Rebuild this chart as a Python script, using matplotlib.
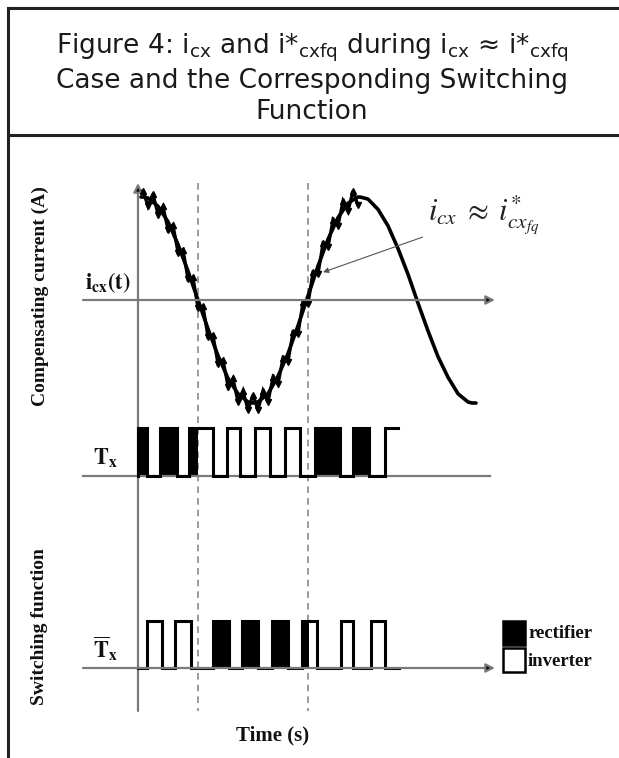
import matplotlib
matplotlib.use("Agg")
import matplotlib.pyplot as plt
from matplotlib.patches import Rectangle
from matplotlib.lines import Line2D

# ---- data (time in arbitrary units, current normalised to the peak) ----
ref_t = [0.3, 0.5, 1.0, 2.0, 3.0, 4.0, 5.0, 6.0, 7.0, 8.0, 9.0, 10.0, 11.0, 11.5,
         12.0, 13.0, 14.0, 15.0, 16.0, 17.0, 18.0, 19.0, 20.0, 21.0, 22.0, 22.2,
         23.0, 24.0, 25.0, 26.0, 27.0, 28.0, 29.0, 30.0, 31.0, 32.0, 33.0, 33.4, 33.8]
ref_i = [1.0, 1.0, 0.99, 0.91, 0.76, 0.54, 0.28, 0.0, -0.28, -0.54, -0.76, -0.91, -0.99, -1.0,
         -0.99, -0.91, -0.74, -0.52, -0.25, 0.04, 0.33, 0.59, 0.80, 0.94, 1.0, 1.0,
         0.98, 0.88, 0.72, 0.50, 0.25, -0.03, -0.30, -0.55, -0.75, -0.91, -0.99, -1.0, -1.0]

# actual (hysteresis) current ripple around the reference
rip_t = [0.5, 1.0, 1.5, 2.0, 2.5, 3.0, 3.5, 4.0, 4.5, 5.0, 5.5, 6.0, 6.5, 7.0, 7.5, 8.0,
         8.5, 9.0, 9.5, 10.0, 10.5, 11.0, 11.5, 12.0, 12.5, 13.0, 13.5, 14.0, 14.5, 15.0,
         15.5, 16.0, 16.5, 17.0, 17.5, 18.0, 18.5, 19.0, 19.5, 20.0, 20.5, 21.0, 21.5, 22.0]
rip_i = [1.06, 0.91, 1.03, 0.83, 0.91, 0.68, 0.73, 0.46, 0.49, 0.20, 0.22, -0.08, -0.06,
         -0.36, -0.34, -0.62, -0.58, -0.84, -0.76, -0.99, -0.88, -1.07, -0.92, -1.07, -0.88,
         -0.99, -0.75, -0.82, -0.56, -0.60, -0.31, -0.33, -0.02, -0.04, 0.27, 0.25, 0.55,
         0.51, 0.78, 0.72, 0.96, 0.86, 1.06, 0.92]

# switching function T_x : rising / falling edges and black-filled (rectifier) extent
tx_on = [0.0, 2.2, 5.1, 8.9, 11.7, 14.7, 17.7, 21.5, 24.7]
tx_off = [0.9, 3.9, 7.5, 10.2, 13.2, 16.2, 20.2, 23.1]
tx_fill = [0.9, 3.9, 6.0, None, None, None, 20.2, 23.1, None]
tx_end = 26.0

# complementary switching function
txb_on = [0.9, 3.7, 7.5, 10.4, 13.4, 16.4, 20.3, 23.3]
txb_off = [2.4, 5.3, 9.1, 12.0, 15.0, 17.9, 21.5, 24.7]
txb_fill = [None, None, 9.1, 12.0, 15.0, 17.1, None, None]
txb_end = 26.1

zero_cross = [6.0, 17.0]

W, H = 619, 758
fig = plt.figure(figsize=(W / 100, H / 100), dpi=100)
XL = (-13.8, 48.1)


def px_axes(y0, y1):
    a = fig.add_axes([0, 1 - y1 / H, 1, (y1 - y0) / H])
    a.set_xlim(*XL)
    a.axis("off")
    a.patch.set_alpha(0)
    return a


# frame and title box
for xs, ys in [([8, 8], [8, 758]), ([8, 619], [8, 8]), ([8, 619], [135, 135])]:
    fig.add_artist(Line2D([x / W for x in xs], [1 - y / H for y in ys],
                          color="#222222", lw=2.2, transform=fig.transFigure))

title_kw = dict(ha="center", va="center", fontsize=19, color="#1a1a1a",
                family="DejaVu Sans", math_fontfamily="dejavusans")
fig.text(312 / W, 1 - 48 / H,
         r"Figure 4: i$_{\mathrm{cx}}$ and i*$_{\mathrm{cxfq}}$ during i$_{\mathrm{cx}}$ ≈ i*$_{\mathrm{cxfq}}$",
         **title_kw)
fig.text(312 / W, 1 - 81 / H, "Case and the Corresponding Switching", **title_kw)
fig.text(312 / W, 1 - 112 / H, "Function", **title_kw)

gray = "#7a7a7a"
serif = dict(family="Liberation Serif", weight="bold", color="#111111")

# background: vertical axis and dashed zero-crossing markers
bg = px_axes(136, 758)
bg.set_ylim(758, 136)
bg.vlines(zero_cross, 183, 711, colors="#8a8a8a", linestyles=(0, (4, 3)), lw=1.2)
bg.annotate("", xy=(0, 183), xytext=(0, 711),
            arrowprops=dict(arrowstyle="-|>", lw=1.6, ec=gray, fc="black",
                            mutation_scale=13, shrinkA=0, shrinkB=0))
bg.text(-9.8, 296, "Compensating current (A)", rotation=90, ha="center", va="center",
        fontsize=14, **serif)
bg.text(-9.8, 627, "Switching function", rotation=90, ha="center", va="center",
        fontsize=14, **serif)
bg.text(13.5, 735, "Time (s)", ha="center", va="center", fontsize=15, **serif)

# current panel
axc = px_axes(185, 415)
axc.set_ylim(-115 / 103, 115 / 103)
axc.annotate("", xy=(35.7, 0), xytext=(-5.5, 0),
             arrowprops=dict(arrowstyle="-|>", lw=1.6, ec=gray, fc="black",
                             mutation_scale=13, shrinkA=0, shrinkB=0))
axc.plot(rip_t, rip_i, color="black", lw=2.3, solid_joinstyle="miter")
axc.plot(rip_t[0::2], rip_i[0::2], "^", color="black", ms=4.5)
axc.plot(rip_t[1::2], rip_i[1::2], "v", color="black", ms=4.5)
axc.plot(ref_t, ref_i, color="black", lw=2.6, solid_capstyle="round")
axc.text(-3.0, 0.17, r"$\mathbf{i_{cx}(t)}$", ha="center", va="center", fontsize=16,
         math_fontfamily="stix", color="#111111")
axc.annotate(r"$i_{cx}\;\approx\; i^{*}_{cx_{fq}}$", xy=(18.5, 0.27), xytext=(29.0, 0.82),
             fontsize=22, math_fontfamily="stix", va="center", ha="left", color="#222222",
             arrowprops=dict(arrowstyle="-|>", lw=0.8, color="#555555",
                             mutation_scale=8, shrinkA=2, shrinkB=0))


def step_trace(ax, on, off, fill, t_end):
    xs, ys = [0.0], [0.0]
    for k, t0 in enumerate(on):
        xs += [t0, t0]
        ys += [0, 1]
        if k < len(off):
            xs += [off[k], off[k]]
            ys += [1, 0]
        else:
            xs.append(t_end)
            ys.append(1)
        if fill[k] is not None:
            ax.fill_between([t0, fill[k]], 0, 1, color="black", lw=0)
    if len(off) == len(on):
        xs.append(t_end)
        ys.append(0)
    ax.plot(xs, ys, color="black", lw=2.2, solid_joinstyle="miter")


# T_x panel
axt = px_axes(415, 560)
axt.set_ylim(-84 / 48, 61 / 48)
axt.plot([-5.5, 35.2], [0, 0], color=gray, lw=1.6)
step_trace(axt, tx_on, tx_off, tx_fill, tx_end)
axt.text(-3.3, 0.37, r"$\mathbf{T_x}$", ha="center", va="center", fontsize=16,
         math_fontfamily="stix", color="#111111")

# complementary T_x panel
axb = px_axes(560, 720)
axb.set_ylim(-52 / 47, 108 / 47)
axb.annotate("", xy=(35.7, 0), xytext=(-5.5, 0),
             arrowprops=dict(arrowstyle="-|>", lw=1.6, ec=gray, fc="black",
                             mutation_scale=13, shrinkA=0, shrinkB=0))
step_trace(axb, txb_on, txb_off, txb_fill, txb_end)
axb.text(-3.3, 0.42, r"$\mathbf{\overline{T}_x}$", ha="center", va="center", fontsize=16,
         math_fontfamily="stix", color="#111111")

# legend
for y0, fc, lab in [(621, "black", "rectifier"), (648, "white", "inverter")]:
    fig.add_artist(Rectangle((503 / W, 1 - (y0 + 24) / H), 22 / W, 24 / H, fc=fc,
                             ec="black", lw=1.8, transform=fig.transFigure))
    fig.text(528 / W, 1 - (y0 + 13) / H, lab, ha="left", va="center", fontsize=13.5, **serif)

fig.savefig("out.png", dpi=100)
